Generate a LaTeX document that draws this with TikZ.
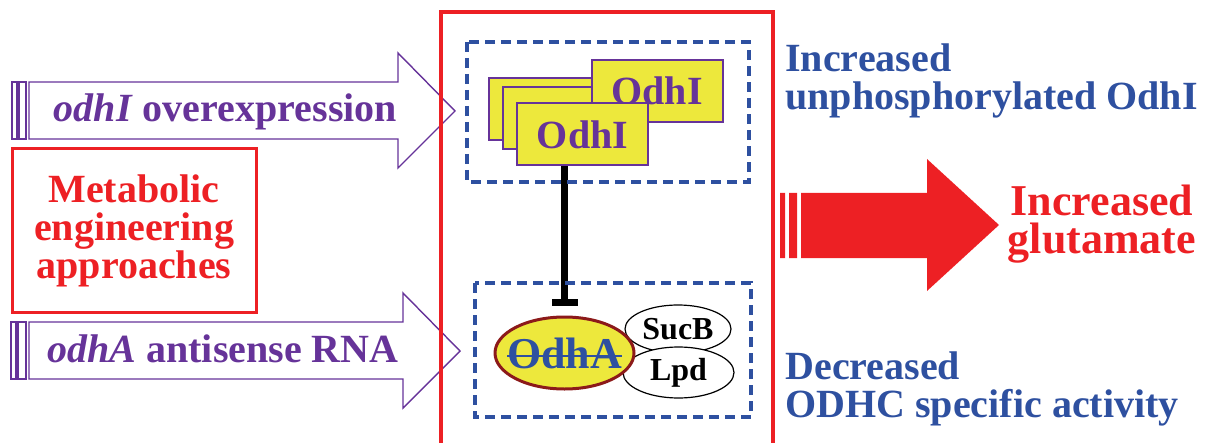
\documentclass[tikz,border=0pt]{standalone}
\usepackage{fontspec}
\setmainfont{Liberation Serif}
\usetikzlibrary{shapes.geometric,arrows.meta}
\definecolor{mred}{RGB}{237,32,36}
\definecolor{mblue}{RGB}{46,80,160}
\definecolor{mpurple}{RGB}{102,51,153}
\definecolor{myellow}{RGB}{237,232,60}
\definecolor{mbrown}{RGB}{140,26,26}
\newcommand\strk[1]{\setbox0\hbox{#1}\rlap{\rule[0.25em]{\wd0}{1pt}}\box0}

\begin{document}
\begin{tikzpicture}[x=0.5pt, y=-0.5pt,
  box/.style={rectangle, draw=mpurple, fill=myellow, line width=1pt, minimum width=65.5pt, minimum height=31pt, inner sep=0pt, text=mpurple, font=\fontsize{20}{19}\selectfont\bfseries},
  dashbox/.style={draw=mblue, line width=1.7pt, dash pattern=on 5pt off 3pt},
  harrow/.style={draw=mpurple, line width=0.7pt},
  sub/.style={ellipse, draw, fill=white, line width=0.6pt, inner sep=0pt, font=\fontsize{16}{16}\selectfont\bfseries},
  lbl/.style={inner sep=0pt, align=left, font=\fontsize{20}{19}\selectfont\bfseries}]
  \useasboundingbox (0,0) rectangle (1213,443);

  % hollow arrows on the left
  \draw[harrow] (29,82) -- (398,82) -- (398,53) -- (455,111) -- (398,168) -- (398,139) -- (29,139) -- cycle;
  \draw[harrow] (12,82) rectangle (17,139) (19,82) rectangle (26,139);
  \draw[harrow] (29,322) -- (403,322) -- (403,293) -- (460,351) -- (403,408) -- (403,379) -- (29,379) -- cycle;
  \draw[harrow] (11,322) rectangle (16,379) (18,322) rectangle (26,379);
  \node (oe) [lbl, text=mpurple, anchor=base] at (225.5,122) {\textit{odhI} overexpression};
  \node (as) [lbl, text=mpurple, anchor=base] at (223,362) {\textit{odhA} antisense RNA};

  \node (meb) [draw=mred, line width=1.5pt, text=mred, align=center, minimum width=122pt, minimum height=81.5pt, inner sep=0pt, font=\fontsize{20}{19}\selectfont\bfseries] at (134,230.5) {Metabolic\\engineering\\approaches};

  % cell
  \draw[mred, line width=1.7pt] (441,460) |- (773,12) -- (773,460);

  \node (b1) [box] at (554.5,109) {};
  \node (b2) [box] at (568.5,118.5) {};
  \node (b3) [box] at (657,91) {OdhI};
  \node (odhi) [box] at (582.5,134.5) {OdhI};

  \node (sucb) [sub, minimum width=53pt, minimum height=24pt] at (678,329) {SucB};
  \node (lpd) [sub, minimum width=55.5pt, minimum height=25.5pt] at (678.5,372.5) {Lpd};
  \node (odha) [ellipse, draw=mbrown, fill=myellow, line width=1.5pt, minimum width=69.5pt, minimum height=36pt, inner sep=0pt, text=mblue, font=\fontsize{22}{22}\selectfont\bfseries] at (564.5,353) {\makebox[0pt]{\strk{OdhA}}};

  \draw[line width=3.5pt, -{Bar[width=13pt]}, shorten >=5pt] (odhi.south -| odha.north) -- (odha.north);

  \draw[dashbox] (467,42) rectangle (749,182);
  \draw[dashbox] (475,283) rectangle (751,417);

  \node (inc) [lbl, text=mblue, anchor=north west] at (785,43) {Increased\\unphosphorylated OdhI};
  \node (dec) [lbl, text=mblue, anchor=north west] at (785,351) {Decreased\\ODHC specific activity};

  % output
  \fill[mred] (801,193) -- (927,193) -- (927,159) -- (999,225) -- (927,291) -- (927,258) -- (801,258) -- cycle;
  \fill[mred] (780,193) rectangle (785,258) (789,193) rectangle (797,258);
  \node (glu) [lbl, align=center, text=mred, anchor=north, font=\fontsize{22}{19}\selectfont\bfseries] at (1102,185) {Increased\\glutamate};
\end{tikzpicture}
\end{document}
